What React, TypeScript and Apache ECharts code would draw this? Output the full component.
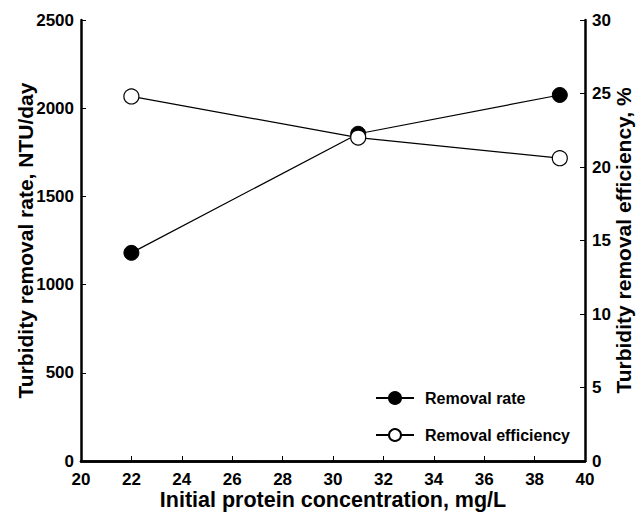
import React, { useEffect, useRef } from "react";
import * as echarts from "echarts";

const concentrations = [22, 31, 39];
const removalRate = [1180, 1855, 2075];
const removalEfficiency = [24.8, 22.0, 20.6];
const xTicks = { min: 20, max: 40, interval: 2 };
const leftTicks = { min: 0, max: 2500, interval: 500 };
const rightTicks = { min: 0, max: 30, interval: 5 };

const FONT = "'Liberation Sans', Arial, sans-serif";

export default function App() {
  const ref = useRef<HTMLDivElement>(null);
  useEffect(() => {
    if (!ref.current) return;
    const chart = echarts.init(ref.current, undefined, { renderer: "svg" });
    const axisLine = { show: true, lineStyle: { color: "#000", width: 2.5 } };
    const axisLabel = {
      color: "#000",
      fontFamily: FONT,
      fontWeight: "bold",
      fontSize: 17,
      formatter: (v: number) => String(v),
    };
    const nameStyle = { color: "#000", fontFamily: FONT, fontWeight: "bold", fontSize: 21 };
    const tick = { show: true, inside: true, length: 5, lineStyle: { color: "#000", width: 1 } };
    chart.setOption({
      animation: false,
      backgroundColor: "#fff",
      grid: { left: 81, right: 54, top: 20, bottom: 54 },
      legend: {
        orient: "vertical",
        left: 370,
        top: 385,
        itemWidth: 38,
        itemHeight: 15,
        itemGap: 21,
        textStyle: {
          color: "#000",
          fontFamily: FONT,
          fontSize: 16,
          fontWeight: "bold",
          padding: [0, 0, 0, 6],
        },
        data: ["Removal rate", "Removal efficiency"],
      },
      xAxis: [
        {
          type: "value",
          min: xTicks.min,
          max: xTicks.max,
          interval: xTicks.interval,
          position: "bottom",
          name: "Initial protein concentration, mg/L",
          nameLocation: "middle",
          nameGap: 28,
          nameMoveOverlap: false,
          nameTextStyle: { ...nameStyle, fontSize: 21.5 },
          axisLine,
          axisTick: tick,
          axisLabel: { ...axisLabel, margin: 10 },
          splitLine: { show: false },
        },
        {
          type: "value",
          min: xTicks.min,
          max: xTicks.max,
          position: "top",
          axisLine,
          axisTick: { show: false },
          axisLabel: { show: false },
          splitLine: { show: false },
        },
      ],
      yAxis: [
        {
          type: "value",
          min: leftTicks.min,
          max: leftTicks.max,
          interval: leftTicks.interval,
          position: "left",
          name: "Turbidity removal rate, NTU/day",
          nameLocation: "middle",
          nameGap: 45,
          nameMoveOverlap: false,
          nameTextStyle: nameStyle,
          axisLine,
          axisTick: tick,
          axisLabel: { ...axisLabel, margin: 7 },
          splitLine: { show: false },
        },
        {
          type: "value",
          min: rightTicks.min,
          max: rightTicks.max,
          interval: rightTicks.interval,
          position: "right",
          name: "Turbidity removal efficiency, %",
          nameLocation: "middle",
          nameGap: 28,
          nameRotate: 90,
          nameMoveOverlap: false,
          nameTextStyle: nameStyle,
          axisLine,
          axisTick: tick,
          axisLabel: { ...axisLabel, margin: 7 },
          splitLine: { show: false },
        },
      ],
      series: [
        {
          name: "Removal rate",
          type: "line",
          xAxisIndex: 0,
          yAxisIndex: 0,
          data: concentrations.map((c, i) => [c, removalRate[i]]),
          symbol: "circle",
          symbolSize: 15,
          itemStyle: { color: "#000", borderColor: "#000", borderWidth: 1 },
          lineStyle: { color: "#000", width: 1.2 },
          z: 3,
        },
        {
          name: "Removal efficiency",
          type: "line",
          xAxisIndex: 0,
          yAxisIndex: 1,
          data: concentrations.map((c, i) => [c, removalEfficiency[i]]),
          symbol: "circle",
          symbolSize: 15,
          itemStyle: { color: "#fff", borderColor: "#000", borderWidth: 1.2 },
          lineStyle: { color: "#000", width: 1.2 },
          z: 4,
        },
      ],
    });
    return () => chart.dispose();
  }, []);
  return (
    <div
      ref={ref}
      style={{ position: "fixed", left: 0, top: 0, width: 642, height: 516, background: "#fff" }}
    />
  );
}
